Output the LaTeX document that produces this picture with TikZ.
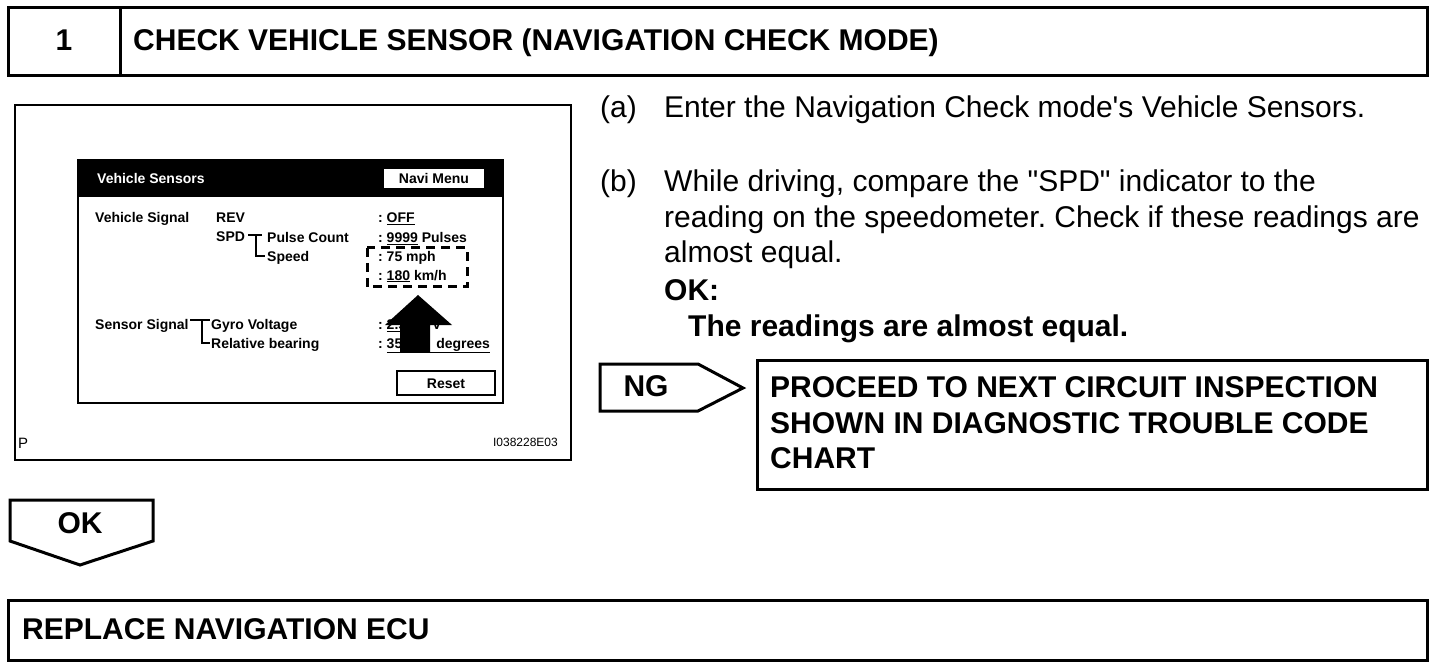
\documentclass[tikz,border=0pt]{standalone}
\usepackage{fontspec}
\setmainfont[Ligatures=TeXOff]{Liberation Sans}
\frenchspacing
\begin{document}
\begin{tikzpicture}[x=1pt,y=-1pt,
  frame/.style={draw=black, line width=3pt},
  thinframe/.style={draw=black, line width=2pt},
  big/.style={font=\fontsize{30}{36}\selectfont, inner sep=0pt, anchor=base west},
  bigb/.style={font=\fontsize{30}{36}\selectfont\bfseries, inner sep=0pt, anchor=base west},
  bigc/.style={font=\fontsize{30}{36}\selectfont\bfseries, inner sep=0pt, anchor=base},
  scr/.style={font=\fontsize{14}{16}\selectfont\bfseries, inner sep=0pt, anchor=base west},
  scrc/.style={font=\fontsize{14}{16}\selectfont\bfseries, inner sep=0pt, anchor=base},
  lbl/.style={font=\fontsize{15}{18}\selectfont, inner sep=0pt, anchor=base west},
]
\useasboundingbox (0,0) rectangle (1456,668);

% header
\draw[frame] (8,8) rectangle (1427,76);
\draw[frame] (120,8) -- (120,76);
\node[bigc] (num) at (64,51) {1};
\node[bigb] (title) at (133,51) {CHECK VEHICLE SENSOR (NAVIGATION CHECK MODE)};

% illustration frame
\draw[thinframe] (15,105) rectangle (571,460);
\node[lbl] (p) at (18,448) {P};
\node[font=\fontsize{12}{14}\selectfont, inner sep=0pt, anchor=base east] (code) at (558,446) {I038228E03};

% screen
\draw[thinframe] (78,160) rectangle (503,403);
\fill[black] (78,160) rectangle (503,197);
\node[scr, text=white] (vs) at (97,184) {Vehicle Sensors};
\draw[black, fill=white, line width=1.5pt] (383,168) rectangle (485,189);
\node[scrc] (navi) at (434,184) {Navi Menu};

\node[scr] (vsig) at (95,223) {Vehicle Signal};
\node[scr] (rev) at (216,223) {REV};
\node[scr] (off) at (378,223) {: \underline{OFF}};
\node[scr] (spd) at (216,242) {SPD};
\draw[line width=1.5pt] (248,235) -- (262,235) (256,235) -- (256,256) -- (265,256);
\node[scr] (pc) at (267,243) {Pulse Count};
\node[scr] (spdl) at (267,262) {Speed};
\node[scr] (pulses) at (378,243) {: \underline{9999} Pulses};
\node[scr] (mph) at (378,262) {: 75 mph};
\node[scr] (kmh) at (378,280) {: \underline{180} km/h};
\draw[line width=3pt, dash pattern=on 9pt off 6pt] (367,248) rectangle (467,287);

\node[scr] (ssig) at (95,329) {Sensor Signal};
\draw[line width=1.5pt] (190,320) -- (210,320) (202,320) -- (202,343) -- (210,343);
\node[scr] (gyro) at (211,330) {Gyro Voltage};
\node[scr] (rel) at (211,348) {Relative bearing};
\node[scr] (volt) at (378,330) {: \underline{2.5}\hspace{26pt}V};
\node[scr] (deg) at (378,348) {: \underline{35\hspace{34pt}degrees}};
\fill[black] (418,295) -- (452,325) -- (430,325) -- (430,352) -- (400,352) -- (400,325) -- (385,325) -- cycle;

\draw[black, line width=1.5pt] (397,371) rectangle (495,395);
\node[scrc] (reset) at (446,388) {Reset};

% right text
\node[big] (a) at (600,118) {(a)};
\node[big] (atext) at (664,118) {Enter the Navigation Check mode's Vehicle Sensors.};
\node[big] (b) at (600,192) {(b)};
\node[big] (b1) at (664,192) {While driving, compare the "SPD" indicator to the};
\node[big] (b2) at (664,228) {reading on the speedometer. Check if these readings are};
\node[big] (b3) at (664,263) {almost equal.};
\node[bigb] (okl) at (664,301) {OK:};
\node[bigb] (okt) at (688,336) {The readings are almost equal.};

% NG arrow
\draw[frame, line join=miter] (600,364) -- (698,364) -- (743,388) -- (698,411) -- (600,411) -- cycle;
\node[bigc] (ng) at (646,396) {NG};
\draw[frame] (757,360) rectangle (1427,489);
\node[bigb] (pr1) at (770,397) {PROCEED TO NEXT CIRCUIT INSPECTION};
\node[bigb] (pr2) at (770,433) {SHOWN IN DIAGNOSTIC TROUBLE CODE};
\node[bigb] (pr3) at (770,468) {CHART};

% OK arrow
\draw[frame, line join=miter] (10,500) -- (153,500) -- (153,541) -- (80,565) -- (10,541) -- cycle;
\node[bigc] (ok) at (80,533) {OK};

% replace box
\draw[frame] (8,600) rectangle (1427,660);
\node[bigb] (rep) at (22,639) {REPLACE NAVIGATION ECU};
\end{tikzpicture}
\end{document}
